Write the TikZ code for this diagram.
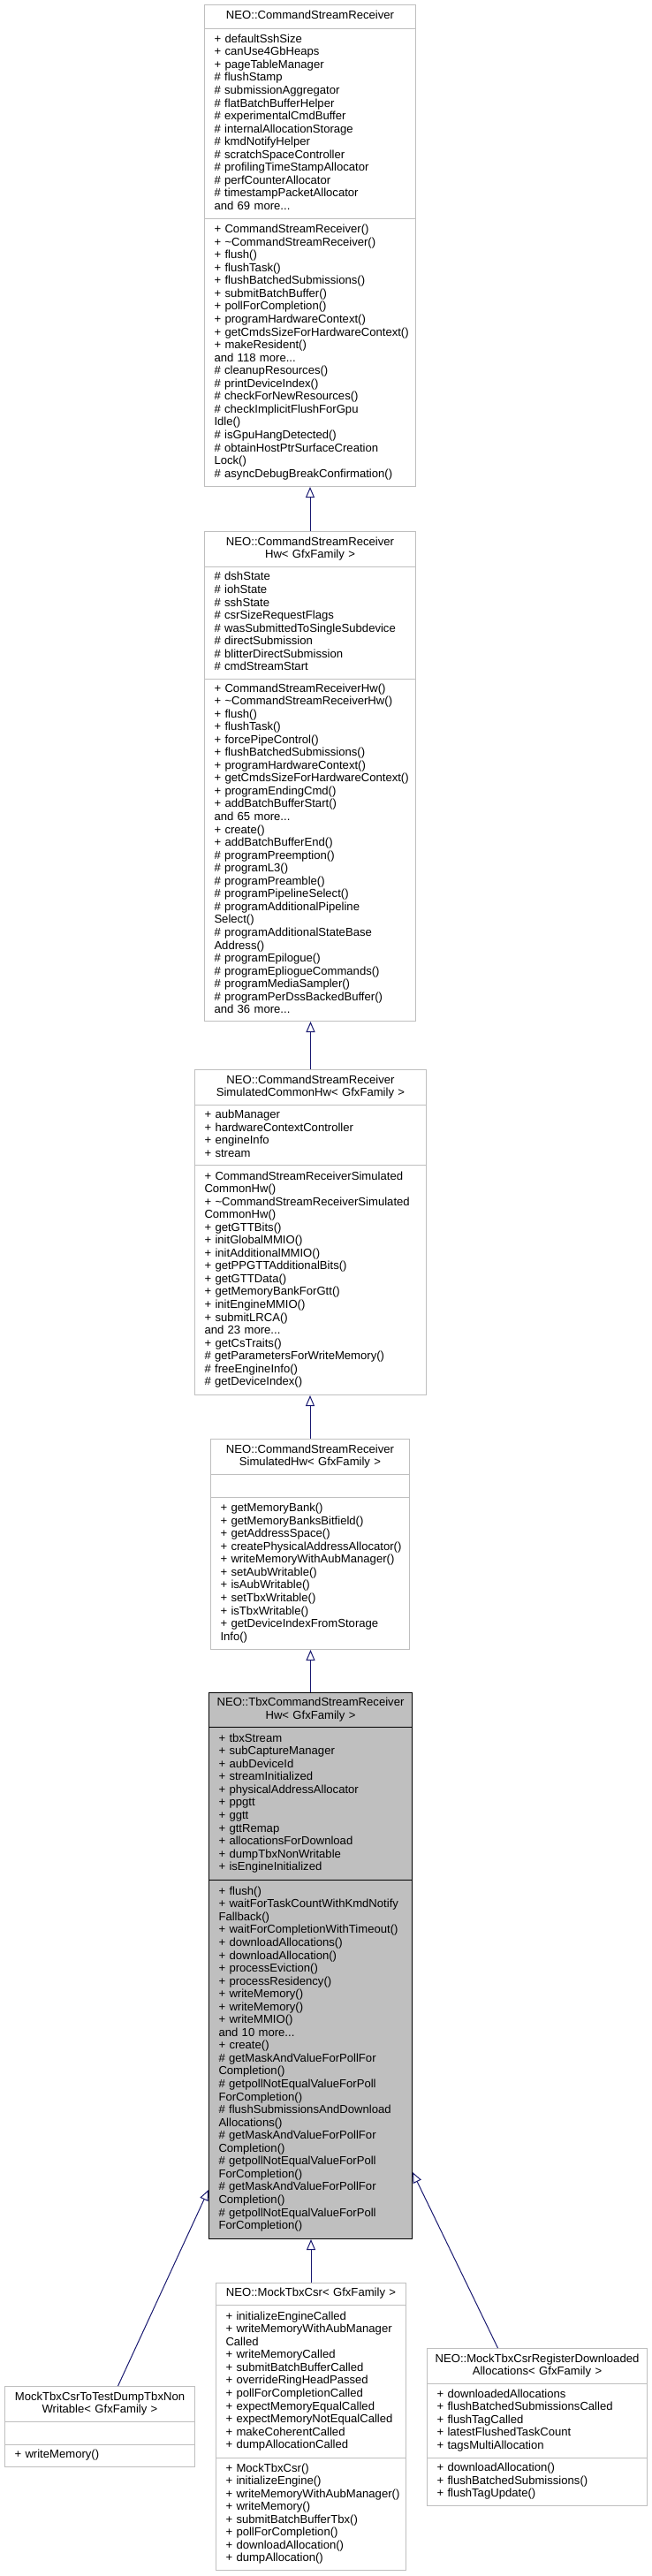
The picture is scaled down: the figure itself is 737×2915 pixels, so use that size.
\documentclass[tikz,border=0pt]{standalone}
\usepackage{fontspec}
\setmainfont{Liberation Sans}
\usetikzlibrary{arrows.meta}
\definecolor{edgeblue}{HTML}{191970}
\definecolor{boxline}{HTML}{BFBFBF}
\definecolor{hlfill}{HTML}{BFBFBF}
\hyphenpenalty=10000
\exhyphenpenalty=10000
\begin{document}
\begin{tikzpicture}[x=1pt, y=-1pt,
  every node/.style={font=\fontsize{13.1}{14.55}\selectfont},
  sec/.style={draw=boxline, fill=white, line width=1pt, anchor=north west,
    inner xsep=11pt, inner ysep=0pt, align=left, text width=#1,
    execute at begin node={\noindent\strut}, execute at end node={\strut}},
  ttl/.style={sec=#1, inner xsep=4pt, align=center},
  hl/.style={draw=black, fill=hlfill},
  inh/.style={draw=edgeblue, line width=1pt, -{Triangle[open, length=12pt, width=10pt]}},
]
\useasboundingbox (0,0) rectangle (737,2915);

% NEO::CommandStreamReceiver
\node[ttl=231pt, minimum height=27pt] (csrT) at (231,5) {NEO::CommandStreamReceiver};
\node[sec=217pt, minimum height=215pt] (csrA) at (231,32) {+~defaultSshSize\\+~canUse4GbHeaps\\+~pageTableManager\\\#~flushStamp\\\#~submissionAggregator\\\#~flatBatchBufferHelper\\\#~experimentalCmdBuffer\\\#~internalAllocationStorage\\\#~kmdNotifyHelper\\\#~scratchSpaceController\\\#~profilingTimeStampAllocator\\\#~perfCounterAllocator\\\#~timestampPacketAllocator\\and 69 more...};
\node[sec=217pt, minimum height=303pt] (csrM) at (231,247) {+~CommandStreamReceiver()\\+~\textasciitilde CommandStreamReceiver()\\+~flush()\\+~flushTask()\\+~flushBatchedSubmissions()\\+~submitBatchBuffer()\\+~pollForCompletion()\\+~programHardwareContext()\\+~getCmdsSizeForHardwareContext()\\+~makeResident()\\and 118 more...\\\#~cleanupResources()\\\#~printDeviceIndex()\\\#~checkForNewResources()\\\#~checkImplicitFlushForGpu\\Idle()\\\#~isGpuHangDetected()\\\#~obtainHostPtrSurfaceCreation\\Lock()\\\#~asyncDebugBreakConfirmation()};

% NEO::CommandStreamReceiverHw
\node[ttl=231pt, minimum height=40pt] (csrhwT) at (231,601) {NEO::CommandStreamReceiver\\Hw< GfxFamily >};
\node[sec=217pt, minimum height=127pt] (csrhwA) at (231,641) {\#~dshState\\\#~iohState\\\#~sshState\\\#~csrSizeRequestFlags\\\#~wasSubmittedToSingleSubdevice\\\#~directSubmission\\\#~blitterDirectSubmission\\\#~cmdStreamStart};
\node[sec=217pt, minimum height=387pt] (csrhwM) at (231,768) {+~CommandStreamReceiverHw()\\+~\textasciitilde CommandStreamReceiverHw()\\+~flush()\\+~flushTask()\\+~forcePipeControl()\\+~flushBatchedSubmissions()\\+~programHardwareContext()\\+~getCmdsSizeForHardwareContext()\\+~programEndingCmd()\\+~addBatchBufferStart()\\and 65 more...\\+~create()\\+~addBatchBufferEnd()\\\#~programPreemption()\\\#~programL3()\\\#~programPreamble()\\\#~programPipelineSelect()\\\#~programAdditionalPipeline\\Select()\\\#~programAdditionalStateBase\\Address()\\\#~programEpilogue()\\\#~programEpliogueCommands()\\\#~programMediaSampler()\\\#~programPerDssBackedBuffer()\\and 36 more...};

% NEO::CommandStreamReceiverSimulatedCommonHw
\node[ttl=254pt, minimum height=40pt] (simT) at (220,1210) {NEO::CommandStreamReceiver\\SimulatedCommonHw< GfxFamily >};
\node[sec=240pt, minimum height=68pt] (simA) at (220,1250) {+~aubManager\\+~hardwareContextController\\+~engineInfo\\+~stream};
\node[sec=240pt, minimum height=260pt] (simM) at (220,1318) {+~CommandStreamReceiverSimulated\\CommonHw()\\+~\textasciitilde CommandStreamReceiverSimulated\\CommonHw()\\+~getGTTBits()\\+~initGlobalMMIO()\\+~initAdditionalMMIO()\\+~getPPGTTAdditionalBits()\\+~getGTTData()\\+~getMemoryBankForGtt()\\+~initEngineMMIO()\\+~submitLRCA()\\and 23 more...\\+~getCsTraits()\\\#~getParametersForWriteMemory()\\\#~freeEngineInfo()\\\#~getDeviceIndex()};

% NEO::CommandStreamReceiverSimulatedHw
\node[ttl=217pt, minimum height=40pt] (simhwT) at (238,1628) {NEO::CommandStreamReceiver\\SimulatedHw< GfxFamily >};
\node[sec=203pt, minimum height=26pt] (simhwA) at (238,1668) {};
\node[sec=203pt, minimum height=172pt] (simhwM) at (238,1694) {+~getMemoryBank()\\+~getMemoryBanksBitfield()\\+~getAddressSpace()\\+~createPhysicalAddressAllocator()\\+~writeMemoryWithAubManager()\\+~setAubWritable()\\+~isAubWritable()\\+~setTbxWritable()\\+~isTbxWritable()\\+~getDeviceIndexFromStorage\\Info()};

% NEO::TbxCommandStreamReceiverHw (highlighted)
\node[ttl=222pt, hl, minimum height=39pt] (tbxT) at (236,1915) {NEO::TbxCommandStreamReceiver\\Hw< GfxFamily >};
\node[sec=208pt, hl, minimum height=173pt] (tbxA) at (236,1954) {+~tbxStream\\+~subCaptureManager\\+~aubDeviceId\\+~streamInitialized\\+~physicalAddressAllocator\\+~ppgtt\\+~ggtt\\+~gttRemap\\+~allocationsForDownload\\+~dumpTbxNonWritable\\+~isEngineInitialized};
\node[sec=208pt, hl, minimum height=406pt] (tbxM) at (236,2127) {+~flush()\\+~waitForTaskCountWithKmdNotify\\Fallback()\\+~waitForCompletionWithTimeout()\\+~downloadAllocations()\\+~downloadAllocation()\\+~processEviction()\\+~processResidency()\\+~writeMemory()\\+~writeMemory()\\+~writeMMIO()\\and 10 more...\\+~create()\\\#~getMaskAndValueForPollFor\\Completion()\\\#~getpollNotEqualValueForPoll\\ForCompletion()\\\#~flushSubmissionsAndDownload\\Allocations()\\\#~getMaskAndValueForPollFor\\Completion()\\\#~getpollNotEqualValueForPoll\\ForCompletion()\\\#~getMaskAndValueForPollFor\\Completion()\\\#~getpollNotEqualValueForPoll\\ForCompletion()};

% MockTbxCsrToTestDumpTbxNonWritable
\node[ttl=207pt, minimum height=40pt] (dumpT) at (5,2700) {MockTbxCsrToTestDumpTbxNon\\Writable< GfxFamily >};
\node[sec=193pt, minimum height=26pt] (dumpA) at (5,2740) {};
\node[sec=193pt, minimum height=25pt] (dumpM) at (5,2766) {+~writeMemory()};

% NEO::MockTbxCsr
\node[ttl=207pt, minimum height=25pt] (mockT) at (244,2583) {NEO::MockTbxCsr< GfxFamily >};
\node[sec=193pt, minimum height=173pt] (mockA) at (244,2608) {+~initializeEngineCalled\\+~writeMemoryWithAubManager\\Called\\+~writeMemoryCalled\\+~submitBatchBufferCalled\\+~overrideRingHeadPassed\\+~pollForCompletionCalled\\+~expectMemoryEqualCalled\\+~expectMemoryNotEqualCalled\\+~makeCoherentCalled\\+~dumpAllocationCalled};
\node[sec=193pt, minimum height=127pt] (mockM) at (244,2781) {+~MockTbxCsr()\\+~initializeEngine()\\+~writeMemoryWithAubManager()\\+~writeMemory()\\+~submitBatchBufferTbx()\\+~pollForCompletion()\\+~downloadAllocation()\\+~dumpAllocation()};

% NEO::MockTbxCsrRegisterDownloadedAllocations
\node[ttl=241pt, minimum height=40pt] (regT) at (483,2657) {NEO::MockTbxCsrRegisterDownloaded\\Allocations< GfxFamily >};
\node[sec=227pt, minimum height=84pt] (regA) at (483,2697) {+~downloadedAllocations\\+~flushBatchedSubmissionsCalled\\+~flushTagCalled\\+~latestFlushedTaskCount\\+~tagsMultiAllocation};
\node[sec=227pt, minimum height=54pt] (regM) at (483,2781) {+~downloadAllocation()\\+~flushBatchedSubmissions()\\+~flushTagUpdate()};

% inheritance connectors
\draw[inh] (csrhwT.north) -- (csrhwT.north |- csrM.south);
\draw[inh] (simT.north) -- (simT.north |- csrhwM.south);
\draw[inh] (simhwT.north) -- (simhwT.north |- simM.south);
\draw[inh] (tbxT.north) -- (tbxT.north |- simhwM.south);
\draw[inh] (mockT.north) -- (mockT.north |- tbxM.south);
\path (dumpT.north) ++(20.5,0) coordinate (dumpIn);
\path (tbxM.west |- 0,2478) coordinate (tbxL);
\draw[inh] (dumpIn) -- (tbxL);
\path (regT.north) ++(-44.5,0) coordinate (regIn);
\path (tbxM.east |- 0,2458) coordinate (tbxR);
\draw[inh] (regIn) -- (tbxR);
\end{tikzpicture}
\end{document}
